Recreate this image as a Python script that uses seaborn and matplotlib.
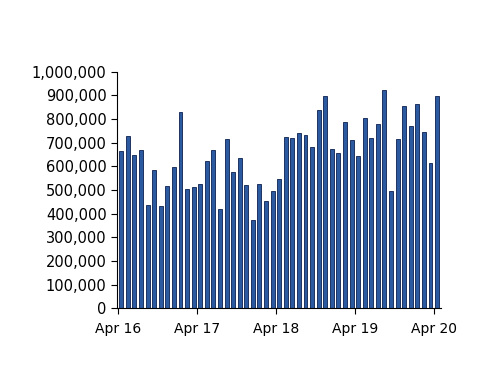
import pandas as pd
import seaborn as sns
import matplotlib.pyplot as plt
from matplotlib.ticker import FuncFormatter

# monthly values, Apr 2016 .. Apr 2020
months = pd.date_range("2016-04-01", "2020-04-01", freq="MS").strftime("%b %y").tolist()
values = [
    666000, 728000, 648000, 670000, 438000, 586000, 432000, 517000, 598000, 831000, 504000, 514000,
    525000, 622000, 670000, 422000, 717000, 575000, 634000, 521000, 372000, 524000, 456000, 496000,
    549000, 725000, 722000, 743000, 732000, 684000, 839000, 897000, 672000, 656000, 787000, 711000,
    643000, 805000, 721000, 779000, 922000, 496000, 715000, 856000, 770000, 862000, 746000, 614000,
    897000,
]
tick_labels = ["Apr 16", "Apr 17", "Apr 18", "Apr 19", "Apr 20"]

df = pd.DataFrame({"month": months, "value": values})

sns.set_style("ticks")
plt.rcParams["font.family"] = ["DejaVu Sans"]

fig = plt.figure(figsize=(5, 3.86), dpi=100)
ax = fig.add_axes([0.234, 0.201, 0.648, 0.613])

sns.barplot(data=df, x="month", y="value", color="#2b5aa0", width=0.6,
            edgecolor="#0b1f4f", linewidth=0.6, saturation=1, ax=ax)

ax.set_ylim(0, 1000000)
ax.set_yticks(range(0, 1000001, 100000))
ax.yaxis.set_major_formatter(FuncFormatter(lambda v, p: f"{int(v):,}"))
ax.set_xticks([i * 12 - 0.45 for i in range(len(tick_labels))])
ax.set_xticklabels(tick_labels)
ax.set_xlim(-0.65, 48.6)
ax.set_xlabel("")
ax.set_ylabel("")
ax.tick_params(axis="both", labelsize=10, colors="black", length=4, width=0.8)
ax.tick_params(axis="y", labelsize=10.5)
ax.tick_params(axis="x", pad=6)
sns.despine(ax=ax)
for s in ["left", "bottom"]:
    ax.spines[s].set_color("black")
    ax.spines[s].set_linewidth(0.8)

plt.savefig("out.png", dpi=100)
